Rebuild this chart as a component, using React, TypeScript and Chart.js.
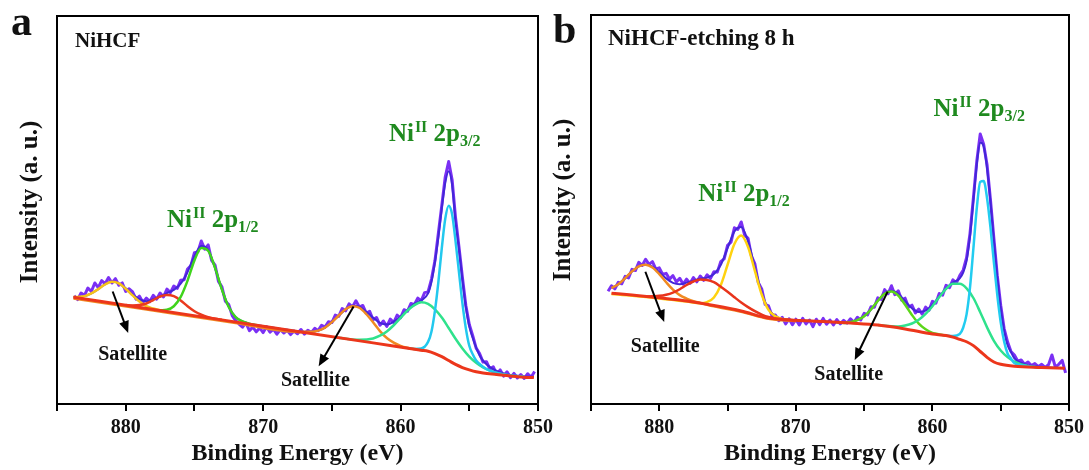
import React, { useEffect, useRef } from 'react';
import { Chart, registerables } from 'chart.js';

Chart.register(...registerables);

type P = [number, number];

const SERIF = '"Liberation Serif", "Times New Roman", serif';
const X_TICKS = [880, 870, 860, 850];

// shared binding-energy grid of the measured spectra (eV)
const RAW_E = [
  883.75, 883.5, 883.25, 883,
  882.75, 882.5, 882.25, 882,
  881.75, 881.5, 881.25, 881,
  880.75, 880.5, 880.25, 880,
  879.75, 879.5, 879.25, 879,
  878.75, 878.5, 878.25, 878,
  877.75, 877.5, 877.25, 877,
  876.75, 876.5, 876.25, 876,
  875.75, 875.5, 875.25, 875,
  874.75, 874.5, 874.25, 874,
  873.75, 873.5, 873.25, 873,
  872.75, 872.5, 872.25, 872,
  871.75, 871.5, 871.25, 871,
  870.75, 870.5, 870.25, 870,
  869.75, 869.5, 869.25, 869,
  868.75, 868.5, 868.25, 868,
  867.75, 867.5, 867.25, 867,
  866.75, 866.5, 866.25, 866,
  865.75, 865.5, 865.25, 865,
  864.75, 864.5, 864.25, 864,
  863.75, 863.5, 863.25, 863,
  862.75, 862.5, 862.25, 862,
  861.75, 861.5, 861.25, 861,
  860.75, 860.5, 860.25, 860,
  859.75, 859.5, 859.25, 859,
  858.75, 858.5, 858.25, 858,
  857.75, 857.5, 857.25, 857,
  856.75, 856.5, 856.25, 856,
  855.75, 855.5, 855.25, 855,
  854.75, 854.5, 854.25, 854,
  853.75, 853.5, 853.25, 853,
  852.75, 852.5, 852.25, 852,
  851.75, 851.5, 851.25, 851,
  850.75, 850.5, 850.25,
];

// measured intensity, panel a (NiHCF)
const RAW_A = [
  27.9, 26.9, 28.6, 28.0,
  29.9, 29.0, 31.2, 30.0,
  31.8, 31.0, 32.6, 31.2,
  32.3, 30.6, 31.2, 29.0,
  29.7, 28.9, 27.0, 27.8,
  26.2, 27.3, 26.4, 28.0,
  27.0, 28.6, 27.6, 29.6,
  28.7, 30.4, 29.8, 31.9,
  32.0, 34.8, 35.7, 39.0,
  39.2, 42.0, 39.9, 41.0,
  37.0, 35.8, 31.6, 30.2,
  26.5, 25.6, 22.8, 21.5,
  20.6, 19.8, 20.9, 18.9,
  19.8, 18.6, 19.6, 18.4,
  19.9, 18.5, 19.3, 18.0,
  19.2, 18.3, 19.0, 17.9,
  18.8, 18.1, 19.2, 18.0,
  19.0, 18.4, 19.5, 18.9,
  20.3, 19.8, 21.2, 21.0,
  22.9, 22.6, 24.6, 24.0,
  25.8, 25.0, 26.6, 25.0,
  25.4, 23.4, 23.9, 21.7,
  22.3, 20.3, 21.4, 20.0,
  21.9, 21.0, 22.9, 22.2,
  24.3, 23.9, 25.9, 25.6,
  27.3, 26.6, 28.7, 28.9,
  32.2, 36.9, 44.0, 51.2,
  58.5, 62.5, 57.8, 48.0,
  40.5, 32.6, 25.4, 20.5,
  17.6, 14.4, 13.0, 10.8,
  10.9, 9.0, 9.6, 7.6,
  8.8, 7.2, 8.3, 6.8,
  7.9, 6.7, 7.6, 6.6,
  7.8, 6.9, 8.4,
];

// measured intensity, panel b (NiHCF-etching 8 h)
const RAW_B = [
  29.0, 30.4, 29.6, 31.3,
  30.9, 32.8, 32.4, 34.6,
  34.3, 36.4, 35.6, 37.2,
  35.9, 36.6, 34.7, 35.0,
  33.3, 33.6, 32.1, 33.0,
  31.4, 32.3, 30.8, 32.1,
  31.0, 32.5, 31.4, 32.9,
  31.8, 33.2, 32.3, 34.0,
  33.9, 36.6, 37.3, 40.8,
  41.6, 45.3, 44.9, 46.8,
  43.4, 42.6, 38.0, 36.0,
  31.2, 29.6, 25.6, 25.2,
  22.7, 22.9, 21.4, 22.3,
  20.6, 21.9, 20.4, 21.8,
  20.3, 22.0, 20.6, 21.6,
  19.9, 21.8, 20.4, 22.0,
  20.5, 21.6, 20.3, 21.7,
  20.6, 21.5, 20.8, 21.9,
  21.0, 22.3, 21.6, 23.3,
  22.9, 25.0, 24.9, 27.3,
  26.9, 29.4, 28.3, 30.4,
  28.1, 29.1, 26.7, 27.2,
  24.9, 25.4, 23.4, 24.4,
  23.1, 24.9, 24.1, 26.4,
  25.9, 28.4, 28.0, 30.5,
  29.9, 31.9, 31.1, 33.0,
  34.4, 37.6, 43.8, 53.0,
  62.5, 69.4, 66.8, 61.5,
  52.5, 42.6, 33.0, 25.4,
  19.4, 16.0, 13.5, 12.6,
  11.0, 11.3, 10.2, 10.8,
  9.9, 10.4, 9.6, 10.2,
  9.4, 10.1, 12.6, 9.5,
  10.2, 11.2, 8.0,
];

// ---- panel a fitted curves [eV, intensity]
const A_BG: P[] = [[883.8, 27.5], [878, 24.37], [870, 20.06], [862, 15.75], [858.5, 13.86], [858, 13.6], [857.5, 13.0], [857, 12.2], [856.5, 11.2], [856, 10.2], [855.5, 9.4], [855, 8.8], [854.5, 8.3], [854, 8.0], [853, 7.6], [852, 7.2], [851, 6.9], [850.3, 6.8]];
const A_SAT1: P[] = [[883.8, 27.55], [883.5, 27.6], [883, 27.8], [882.5, 28.5], [882, 29.6], [881.5, 30.8], [881, 31.5], [880.5, 31.1], [880, 29.7], [879.5, 28.0], [879, 26.4], [878.5, 25.2], [878, 24.6], [877.5, 24.15]];
const A_SAT2: P[] = [[880, 25.5], [879.5, 25.4], [879, 25.5], [878.5, 25.9], [878, 26.8], [877.5, 27.7], [877, 28.1], [876.5, 27.8], [876, 26.7], [875.5, 25.2], [875, 23.9], [874.5, 23.0], [874, 22.4], [873.5, 22.0], [873, 21.7]];
const A_P12: P[] = [[877.5, 24.15], [877, 24.3], [876.5, 25.2], [876, 27.6], [875.5, 31.8], [875, 37.0], [874.5, 40.2], [874, 39.5], [873.5, 35.1], [873, 29.5], [872.5, 25.0], [872, 22.4], [871.5, 21.3], [871, 20.7], [870.5, 20.35]];
const A_SAT3: P[] = [[883.8, 27.2], [878, 24.1], [872, 20.9], [867.5, 18.55], [867, 18.6], [866.5, 18.6], [866, 18.9], [865.5, 19.7], [865, 21.1], [864.5, 22.8], [864, 24.4], [863.5, 25.2], [863, 24.8], [862.5, 23.2], [862, 21.05], [861.5, 18.8], [861, 17.0], [860.5, 15.8], [860, 15.0], [859.5, 14.5], [859, 14.15], [858.5, 13.9]];
const A_SAT4: P[] = [[864.5, 17.1], [864, 16.85], [863, 16.55], [862, 16.9], [861.5, 17.6], [861, 18.7], [860.5, 20.3], [860, 22.2], [859.5, 24.1], [859, 25.5], [858.5, 26.2], [858, 25.8], [857.5, 24.4], [857, 22.3], [856.5, 19.6], [856, 16.8], [855.5, 14.3], [855, 12.2], [854.5, 10.6], [854, 9.4], [853.5, 8.6], [853, 8.0], [852.5, 7.6], [852, 7.3], [851, 6.95]];
const A_P32: P[] = [[859.5, 14.4], [859, 14.2], [858.5, 14.3], [858, 16.0], [857.75, 18.7], [857.5, 24], [857.25, 31.4], [857, 40.2], [856.75, 47.7], [856.5, 51.1], [856.25, 48.9], [856, 42], [855.75, 34], [855.5, 26], [855.25, 19.5], [855, 15.0], [854.75, 12.8], [854.5, 11.2], [854, 9.6], [853.5, 8.6], [853, 8.0], [852, 7.4], [851, 7.0]];
const A_ENV: P[] = [[883.8, 27.5], [883.5, 27.6], [883, 27.8], [882.5, 28.5], [882, 29.6], [881.5, 30.9], [881, 31.5], [880.5, 31.1], [880, 29.8], [879.5, 28.2], [879, 27.0], [878.5, 26.5], [878, 27.0], [877.5, 27.7], [877, 28.6], [876.5, 29.4], [876, 31.0], [875.5, 34.0], [875, 38.1], [874.5, 40.7], [874, 39.7], [873.5, 35.05], [873, 29.5], [872.5, 25.0], [872, 22.4], [871.5, 21.3], [871, 20.6], [870, 20.06], [868, 18.98], [867, 18.6], [866.5, 18.6], [866, 18.9], [865.5, 19.7], [865, 21.1], [864.5, 22.8], [864, 24.4], [863.5, 25.3], [863, 25.1], [862.5, 23.8], [862, 22.25], [861.5, 20.9], [861, 20.5], [860.5, 21.2], [860, 22.5], [859.5, 24.2], [859, 25.8], [858.5, 26.7], [858, 28.5], [857.75, 31.5], [857.5, 36.5], [857.25, 43], [857, 50.5], [856.75, 57], [856.5, 60], [856.25, 56.5], [856, 47], [855.75, 40], [855.5, 32], [855.25, 25], [855, 20], [854.75, 17], [854.5, 14.5], [854.25, 12.5], [854, 11.2], [853.5, 9.5], [853, 8.5], [852.5, 7.9], [852, 7.5], [851, 7.1], [850.3, 7.0]];

// ---- panel b fitted curves [eV, intensity]
const B_BG: P[] = [[883.5, 28.5], [882, 28.0], [880, 27.3], [878, 26.5], [876, 25.3], [874, 23.9], [872, 22.1], [870, 21.5], [868, 21.2], [866, 20.8], [864, 20.3], [862, 19.3], [860, 18.0], [859, 17.6], [858.5, 17.2], [858, 16.6], [857.5, 16.0], [857, 15.0], [856.5, 13.5], [856, 12.0], [855.5, 10.8], [855, 10.2], [854, 9.7], [852, 9.4], [850.3, 9.2]];
const B_SAT1: P[] = [[883.5, 29.8], [883, 30.8], [882.5, 32.35], [882, 34.1], [881.5, 35.4], [881, 35.8], [880.5, 35.1], [880, 33.4], [879.5, 31.3], [879, 29.4], [878.5, 28.0], [878, 27.1], [877.5, 26.4], [877, 26.0], [876, 25.1], [874, 23.7], [872, 21.9], [870, 21.3]];
const B_SAT2: P[] = [[881, 27.65], [880.5, 27.7], [880, 27.8], [879.5, 28.1], [879, 28.65], [878.5, 29.5], [878, 30.6], [877.5, 31.5], [877, 32.0], [876.5, 31.9], [876, 31.3], [875.5, 30.15], [875, 28.85], [874.5, 27.45], [874, 26.1], [873.5, 24.9], [873, 23.85], [872.5, 23.0], [872, 22.35], [871.5, 21.95], [871, 21.75], [870, 21.5]];
const B_P12: P[] = [[883.5, 28.3], [880, 27.15], [878, 26.35], [877, 25.9], [876.5, 26.2], [876, 27.4], [875.5, 30.55], [875, 35.8], [874.5, 41.15], [874, 43.3], [873.5, 40.35], [873, 34.2], [872.5, 28.15], [872, 24.2], [871.5, 22.55], [871, 21.85], [870.5, 21.6]];
const B_SAT3: P[] = [[867, 21.0], [866.5, 20.8], [866, 21.1], [865.5, 21.55], [865, 22.55], [864.5, 24.3], [864, 26.5], [863.5, 28.35], [863, 28.9], [862.5, 27.85], [862, 25.5], [861.5, 22.9], [861, 20.65], [860.5, 19.2], [860, 18.3], [859.5, 17.9], [859, 17.6]];
const B_SAT4: P[] = [[864, 20.3], [863.5, 20.1], [863, 20.0], [862.5, 19.95], [862, 20.2], [861.5, 20.7], [861, 21.65], [860.5, 23.15], [860, 25.15], [859.5, 27.5], [859, 29.6], [858.5, 30.9], [858, 30.9], [857.5, 29.75], [857, 27.25], [856.5, 23.6], [856, 19.7], [855.5, 16.25], [855, 13.75], [854.5, 12.05], [854, 10.9], [853.5, 10.2], [853, 9.8], [852.5, 9.5], [852, 9.4]];
const B_P32: P[] = [[859, 17.6], [858.5, 17.5], [858, 18.0], [857.75, 19.6], [857.5, 23.05], [857.25, 29.9], [857, 40], [856.75, 50.4], [856.5, 57.1], [856.25, 57.35], [856, 52.9], [855.75, 45.4], [855.5, 36.4], [855.25, 28.0], [855, 21.0], [854.75, 16.1], [854.5, 13.0], [854.25, 11.7], [854, 10.5], [853.5, 10.0], [853, 9.7], [852.5, 9.5], [852, 9.4]];
const B_ENV: P[] = [[883.5, 29.8], [883, 30.8], [882.5, 32.35], [882, 34.1], [881.5, 35.4], [881, 35.85], [880.5, 35.3], [880, 33.9], [879.5, 32.3], [879, 31.15], [878.5, 30.8], [878, 31.2], [877.5, 31.7], [877, 32.2], [876.5, 32.5], [876, 33.4], [875.5, 35.75], [875, 40.05], [874.5, 44.35], [874, 45.5], [873.5, 41.8], [873, 35.05], [872.5, 28.6], [872, 24.45], [871.5, 22.65], [871, 21.85], [870, 21.5], [868, 21.2], [867, 21.0], [866.5, 20.9], [866, 21.1], [865.5, 21.56], [865, 22.55], [864.5, 24.3], [864, 26.5], [863.5, 28.45], [863, 29.1], [862.5, 28.3], [862, 26.4], [861.5, 24.6], [861, 23.65], [860.5, 24.0], [860, 25.45], [859.5, 27.6], [859, 29.7], [858.5, 31.2], [858, 32.3], [857.75, 33.75], [857.5, 36.8], [857.25, 43.0], [857, 52.25], [856.75, 61.6], [856.5, 67.2], [856.25, 66.25], [856, 60.6], [855.75, 51.95], [855.5, 41.85], [855.25, 32.5], [855, 24.56], [854.75, 18.9], [854.5, 15.16], [854.25, 13.4], [854, 11.7], [853.5, 10.6], [853, 10.0], [852.5, 9.7], [852, 9.5], [851, 9.3], [850.3, 9.2]];

// ---- annotations (data coordinates)
const A_NI_LABELS = [{ x: 877.0, y: 45.7, sub: '1/2' }, { x: 860.85, y: 67.9, sub: '3/2' }];
const B_NI_LABELS = [{ x: 877.15, y: 52.1, sub: '1/2' }, { x: 859.93, y: 74.0, sub: '3/2' }];
const A_SAT_LABELS = [{ x: 879.5, y: 12.7 }, { x: 866.2, y: 5.9 }];
const B_SAT_LABELS = [{ x: 879.56, y: 14.7 }, { x: 866.13, y: 7.5 }];
const A_ARROWS = [[880.95, 29.0, 879.82, 18.3], [863.42, 25.1, 865.96, 9.7]];
const B_ARROWS = [[881.02, 34.0, 879.64, 21.1], [863.28, 28.9, 865.69, 11.3]];

const C_RAW = '#7b30f4';
const C_ENV = '#4326d8';
const C_BG = '#ec361b';
const C_LABEL = '#1f8a1f';

interface Series { pts?: P[]; raw?: number[]; color: string; width: number; }
interface Panel {
  padLeft: number; padRight: number; padTop: number;
  letter: string; letterX: number; letterY: number;
  sample: string; sampleX: number; sampleY: number; sampleSize: number;
  yTitleX: number; yTitleY: number;
  series: Series[];
  ni: { x: number; y: number; sub: string }[];
  sats: { x: number; y: number }[];
  arrows: number[][];
}

const PANEL_A: Panel = {
  padLeft: 57, padRight: 27, padTop: 16,
  letter: 'a', letterX: 11, letterY: 35,
  sample: 'NiHCF', sampleX: 75, sampleY: 47, sampleSize: 21,
  yTitleX: 31, yTitleY: 202,
  series: [
    { pts: A_BG, color: C_BG, width: 3 },
    { pts: A_P32, color: '#22c8ee', width: 2.5 },
    { pts: A_SAT4, color: '#2fe28c', width: 2.5 },
    { pts: A_SAT3, color: '#f08a22', width: 2.5 },
    { pts: A_P12, color: '#3fd41c', width: 2.5 },
    { pts: A_SAT2, color: '#ea3a1e', width: 2.5 },
    { pts: A_SAT1, color: '#f5c21a', width: 2.5 },
    { pts: A_ENV, color: C_ENV, width: 2 },
    { raw: RAW_A, color: C_RAW, width: 3 },
  ],
  ni: A_NI_LABELS, sats: A_SAT_LABELS, arrows: A_ARROWS,
};

const PANEL_B: Panel = {
  padLeft: 46, padRight: 19, padTop: 15,
  letter: 'b', letterX: 8, letterY: 43,
  sample: 'NiHCF-etching 8 h', sampleX: 63, sampleY: 45, sampleSize: 23,
  yTitleX: 19, yTitleY: 200,
  series: [
    { pts: B_BG, color: C_BG, width: 3 },
    { pts: B_P32, color: '#22ccf0', width: 2.5 },
    { pts: B_SAT4, color: '#2fe28c', width: 2.5 },
    { pts: B_SAT3, color: '#5cd61a', width: 2.5 },
    { pts: B_SAT2, color: '#e8341c', width: 2.5 },
    { pts: B_P12, color: '#ffd20f', width: 2.5 },
    { pts: B_SAT1, color: '#f08a22', width: 2.5 },
    { pts: B_ENV, color: C_ENV, width: 2 },
    { raw: RAW_B, color: C_RAW, width: 3 },
  ],
  ni: B_NI_LABELS, sats: B_SAT_LABELS, arrows: B_ARROWS,
};

function drawArrow(ctx: CanvasRenderingContext2D, x1: number, y1: number, x2: number, y2: number) {
  const a = Math.atan2(y2 - y1, x2 - x1);
  const L = 12, W = 5;
  ctx.beginPath();
  ctx.moveTo(x1, y1);
  ctx.lineTo(x2 - (L - 2) * Math.cos(a), y2 - (L - 2) * Math.sin(a));
  ctx.stroke();
  ctx.beginPath();
  ctx.moveTo(x2, y2);
  ctx.lineTo(x2 - L * Math.cos(a) + W * Math.sin(a), y2 - L * Math.sin(a) - W * Math.cos(a));
  ctx.lineTo(x2 - L * Math.cos(a) - W * Math.sin(a), y2 - L * Math.sin(a) + W * Math.cos(a));
  ctx.closePath();
  ctx.fill();
}

function drawNi(ctx: CanvasRenderingContext2D, x: number, y: number, sub: string) {
  const big = `bold 25px ${SERIF}`;
  const small = `bold 16px ${SERIF}`;
  ctx.fillStyle = C_LABEL;
  ctx.textAlign = 'left';
  ctx.textBaseline = 'alphabetic';
  ctx.font = big;
  ctx.fillText('Ni', x, y);
  x += ctx.measureText('Ni').width + 1;
  ctx.font = small;
  ctx.fillText('II', x, y - 9);
  x += ctx.measureText('II').width;
  ctx.font = big;
  ctx.fillText(' 2p', x, y);
  x += ctx.measureText(' 2p').width;
  ctx.font = small;
  ctx.fillText(sub, x, y + 5);
}

function makeChart(canvas: HTMLCanvasElement, panel: Panel) {
  const datasets = panel.series.map((s) => {
    const data = s.raw
      ? s.raw.map((y, i) => ({ x: RAW_E[i], y })).filter((p) => p.x !== undefined)
      : (s.pts as P[]).map(([x, y]) => ({ x, y }));
    return {
      data,
      borderColor: s.color,
      borderWidth: s.width,
      pointRadius: 0,
      fill: false,
      tension: 0,
      cubicInterpolationMode: s.raw ? 'default' : 'monotone',
      borderJoinStyle: 'round',
    };
  });

  const annot = {
    id: 'annot',
    afterDraw(chart: any) {
      const { ctx, chartArea: ca, scales } = chart;
      const X = (v: number) => scales.x.getPixelForValue(v);
      const Y = (v: number) => scales.y.getPixelForValue(v);
      ctx.save();
      ctx.strokeStyle = '#000';
      ctx.lineWidth = 2;
      ctx.strokeRect(ca.left, ca.top, ca.right - ca.left, ca.bottom - ca.top);

      ctx.fillStyle = '#111';
      ctx.textAlign = 'left';
      ctx.textBaseline = 'alphabetic';
      ctx.font = `bold 42px ${SERIF}`;
      ctx.fillText(panel.letter, panel.letterX, panel.letterY);
      ctx.font = `bold ${panel.sampleSize}px ${SERIF}`;
      ctx.fillText(panel.sample, panel.sampleX, panel.sampleY);

      ctx.save();
      ctx.translate(panel.yTitleX, panel.yTitleY);
      ctx.rotate(-Math.PI / 2);
      ctx.textAlign = 'center';
      ctx.textBaseline = 'middle';
      ctx.font = `bold 25px ${SERIF}`;
      ctx.fillText('Intensity (a. u.)', 0, 0);
      ctx.restore();

      panel.ni.forEach((n) => drawNi(ctx, X(n.x), Y(n.y), n.sub));

      ctx.fillStyle = '#111';
      ctx.textAlign = 'center';
      ctx.textBaseline = 'middle';
      ctx.font = `bold 20px ${SERIF}`;
      panel.sats.forEach((s) => ctx.fillText('Satellite', X(s.x), Y(s.y)));

      ctx.strokeStyle = '#000';
      ctx.fillStyle = '#000';
      ctx.lineWidth = 2;
      panel.arrows.forEach((a) => drawArrow(ctx, X(a[0]), Y(a[1]), X(a[2]), Y(a[3])));
      ctx.restore();
    },
  };

  return new Chart(canvas, {
    type: 'line',
    data: { datasets: datasets as any },
    options: {
      animation: false,
      responsive: false,
      devicePixelRatio: 1,
      layout: { padding: { left: panel.padLeft, right: panel.padRight, top: panel.padTop, bottom: 0 } },
      plugins: { legend: { display: false }, tooltip: { enabled: false } },
      scales: {
        x: {
          type: 'linear',
          reverse: true,
          min: 850,
          max: 885,
          afterFit: (s: any) => { s.height = 66; },
          ticks: {
            stepSize: 5,
            autoSkip: false,
            maxRotation: 0,
            padding: 5,
            color: '#111',
            font: { family: SERIF, size: 20, weight: 'bold' },
            callback: (v: any) => (X_TICKS.includes(Number(v)) ? String(v) : ''),
          },
          grid: { display: true, drawOnChartArea: false, drawTicks: true, tickLength: 7, color: '#000', lineWidth: 2 },
          border: { display: true, color: '#000', width: 2 },
          title: {
            display: true,
            text: 'Binding Energy (eV)',
            color: '#111',
            font: { family: SERIF, size: 24, weight: 'bold' },
            padding: { top: 0, bottom: 2 },
          },
        },
        y: { type: 'linear', display: false, min: 0, max: 100 },
      },
    } as any,
    plugins: [annot],
  });
}

export default function App() {
  const refA = useRef<HTMLCanvasElement>(null);
  const refB = useRef<HTMLCanvasElement>(null);
  useEffect(() => {
    const ca = makeChart(refA.current as HTMLCanvasElement, PANEL_A);
    const cb = makeChart(refB.current as HTMLCanvasElement, PANEL_B);
    return () => { ca.destroy(); cb.destroy(); };
  }, []);
  return (
    <div style={{ position: 'fixed', left: 0, top: 0, width: 1089, height: 470, background: '#fff', overflow: 'hidden' }}>
      <canvas ref={refA} width={565} height={470} style={{ position: 'absolute', left: 0, top: 0, width: 565, height: 470 }} />
      <canvas ref={refB} width={544} height={470} style={{ position: 'absolute', left: 545, top: 0, width: 544, height: 470 }} />
    </div>
  );
}
